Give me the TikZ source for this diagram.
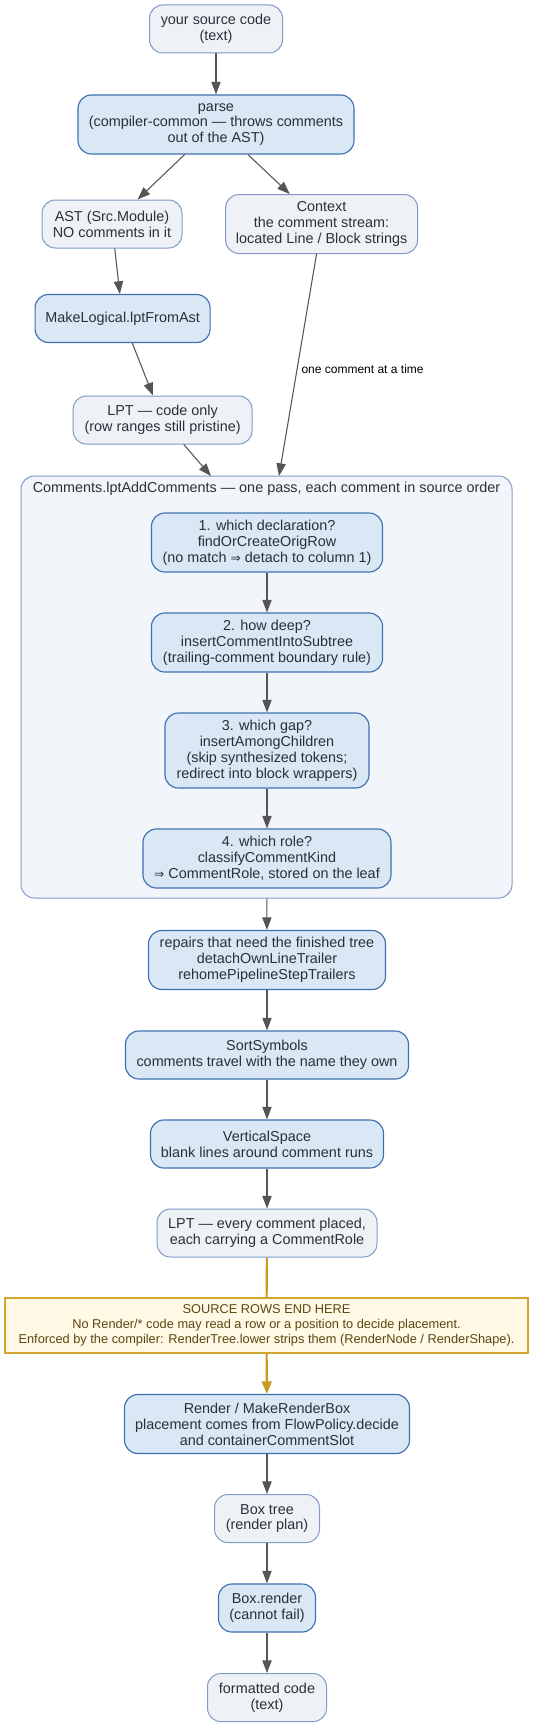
\documentclass[tikz,border=0pt]{standalone}
\usepackage{fontspec}
\setmainfont{Liberation Sans}
\newfontfamily\symfont{DejaVu Sans}[Scale=0.85]
\usetikzlibrary{arrows.meta}
\definecolor{darkfill}{HTML}{DAE8F5}
\definecolor{darkdraw}{HTML}{3F6FB2}
\definecolor{lightfill}{HTML}{EEF2F7}
\definecolor{lightdraw}{HTML}{7F9BC6}
\definecolor{clufill}{HTML}{F2F6FB}
\definecolor{cludraw}{HTML}{819DC8}
\definecolor{warnfill}{HTML}{FFF9E5}
\definecolor{warndraw}{HTML}{D2A52C}
\definecolor{warntext}{HTML}{5A4712}
\definecolor{warnedge}{HTML}{C99A22}
\definecolor{edgec}{HTML}{555555}
\definecolor{textc}{HTML}{263238}
\newcommand{\imp}{{\symfont ⇒}}
\begin{document}
\begin{tikzpicture}[x=0.75pt,y=-0.75pt,
  base/.style={rounded corners=10pt, align=center, font=\fontsize{10.8}{11.9}\selectfont,
    text=textc, inner sep=1pt},
  dark/.style={base, fill=darkfill, draw=darkdraw, line width=0.85pt},
  light/.style={base, fill=lightfill, draw=lightdraw, line width=0.75pt},
  sz/.style 2 args={minimum width={0.75pt*#1}, minimum height={0.75pt*#2}},
  edge/.style={draw=edgec, line width=0.8pt, -{Triangle[length=9.5pt,width=7pt]}},
  warnline/.style={draw=warnedge, line width=1.6pt},
  warnedgearrow/.style={warnline, -{Triangle[length=9.5pt,width=7.5pt]}},
  lbl/.style={font=\fontsize{9}{11}\selectfont, text=black, inner sep=0pt},
]
\useasboundingbox (0,0) rectangle (533,1727);

% top part
\node[light, sz={133}{48}] (src) at (216,29) {your source code\\(text)};
\node[dark, sz={276}{59}] (parse) at (216,124.5) {parse\\(compiler-common — throws comments\\out of the AST)};
\node[light, sz={140}{48}] (ast) at (112,224) {AST (Src.Module)\\NO comments in it};
\node[light, sz={192}{59}] (ctx) at (321.6,224) {Context\\the comment stream:\\located Line / Block strings};
\node[dark, sz={175}{48}] (mk) at (122.6,318.5) {MakeLogical.lptFromAst};
\node[light, sz={179}{48}] (lpt1) at (162.6,420) {LPT — code only\\(row ranges still pristine)};

% cluster
\node[draw=cludraw, fill=clufill, line width=0.75pt, rounded corners=10pt,
  sz={491}{422}, inner sep=0pt] (clu) at (266.5,687) {};
\node[base, inner sep=0pt] (clutitle) at (266.5,488.5) {Comments.lptAddComments — one pass, each comment in source order};
\coordinate (inA) at (211,476);
\coordinate (inB) at (279,476);

\node[dark, sz={231}{59}] (s1) at (267,542.5) {1. which declaration?\\findOrCreateOrigRow\\(no match \imp{} detach to column 1)};
\node[dark, sz={231}{59}] (s2) at (267,642.5) {2. how deep?\\insertCommentIntoSubtree\\(trailing-comment boundary rule)};
\node[dark, sz={204}{75}] (s3) at (267,750.5) {3. which gap?\\insertAmongChildren\\(skip synthesized tokens;\\redirect into block wrappers)};
\node[dark, sz={248}{59}] (s4) at (267,858.5) {4. which role?\\classifyCommentKind\\\imp{} CommentRole, stored on the leaf};

% lower part
\node[dark, sz={237}{59}] (rep) at (267,960) {repairs that need the finished tree\\detachOwnLineTrailer\\rehomePipelineStepTrailers};
\node[dark, sz={283}{48}] (sort) at (267,1055) {SortSymbols\\comments travel with the name they own};
\node[dark, sz={233}{48}] (vs) at (267,1144) {VerticalSpace\\blank lines around comment runs};
\node[light, sz={220}{48}] (lpt2) at (267,1233) {LPT — every comment placed,\\each carrying a CommentRole};
\node[fill=warnfill, draw=warndraw, line width=0.85pt, align=center,
  font=\fontsize{9.6}{11.5}\selectfont, text=warntext, sz={523}{55}, inner sep=0pt] (warn) at (266.5,1325.5)
  {SOURCE ROWS END HERE\\No Render/* code may read a row or a position to decide placement.\\Enforced by the compiler: RenderTree.lower strips them (RenderNode / RenderShape).};
\node[dark, sz={285}{59}] (render) at (267,1424) {Render / MakeRenderBox\\placement comes from FlowPolicy.decide\\and containerCommentSlot};
\node[light, sz={105}{48}] (boxtree) at (267,1518.5) {Box tree\\(render plan)};
\node[dark, sz={97}{48}] (boxrender) at (267,1608) {Box.render\\(cannot fail)};
\node[light, sz={119}{48}] (fmt) at (267,1697.5) {formatted code\\(text)};

% edges
\draw[edge] (src) -- (parse);
\draw[edge] (parse) -- (ast);
\draw[edge] (parse) -- (ctx);
\draw[edge] (ast) -- (mk);
\draw[edge] (mk) -- (lpt1);
\draw[edge] (lpt1) -- (inA);
\draw[edge] (ctx) -- node[lbl, right, pos=0.52, xshift=3pt] (lab) {one comment at a time} (inB);
\draw[edge] (s1) -- (s2);
\draw[edge] (s2) -- (s3);
\draw[edge] (s3) -- (s4);
\draw[edge] (clu) -- (rep);
\draw[edge] (rep) -- (sort);
\draw[edge] (sort) -- (vs);
\draw[edge] (vs) -- (lpt2);
\draw[warnline] (lpt2) -- (warn);
\draw[warnedgearrow] (warn) -- (render);
\draw[edge] (render) -- (boxtree);
\draw[edge] (boxtree) -- (boxrender);
\draw[edge] (boxrender) -- (fmt);
\end{tikzpicture}
\end{document}
